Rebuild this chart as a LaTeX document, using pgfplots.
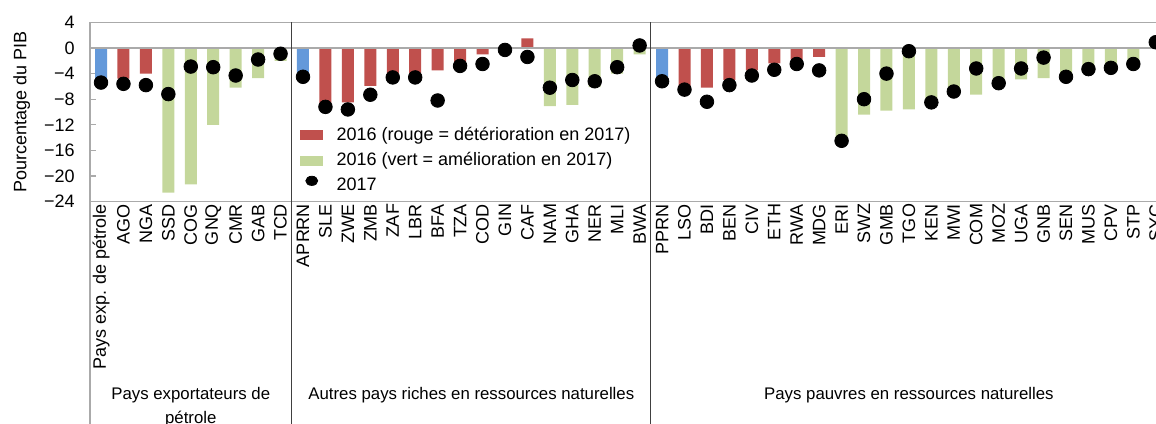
\documentclass[border=0pt]{standalone}
\usepackage{fontspec}
\setmainfont{Liberation Sans}
\usepackage{pgfplots}
\usepackage{pgfplotstable}
\pgfplotsset{compat=1.18}
\definecolor{cred}{RGB}{192,80,77}
\definecolor{cgreen}{RGB}{196,215,155}
\definecolor{cblue}{RGB}{100,153,218}
\definecolor{gridgray}{RGB}{170,170,170}

\pgfplotstableread{
x y
0 -4.8
9 -3.9
25 -4.5
}\blueT

\pgfplotstableread{
x y
1 -4.8
2 -4.0
10 -8.6
11 -8.5
12 -5.9
13 -4.0
14 -4.0
15 -3.5
16 -2.2
17 -1.0
18 0.1
19 1.5
26 -5.9
27 -6.2
28 -5.0
29 -3.5
30 -2.4
31 -1.8
32 -1.4
}\redT

\pgfplotstableread{
x y
3 -22.6
4 -21.3
5 -12.0
6 -6.2
7 -4.7
8 -2.0
20 -9.1
21 -8.9
22 -6.1
23 -4.0
24 -1.0
33 -15.0
34 -10.4
35 -9.8
36 -9.6
37 -8.9
38 -7.2
39 -7.3
40 -5.9
41 -4.9
42 -4.7
43 -4.9
44 -3.7
45 -3.5
46 -2.9
47 0.3
}\greenT

\pgfplotstableread{
x y
0 -5.4
1 -5.6
2 -5.8
3 -7.2
4 -2.9
5 -3.0
6 -4.3
7 -1.8
8 -0.9
9 -4.5
10 -9.2
11 -9.6
12 -7.3
13 -4.6
14 -4.6
15 -8.2
16 -2.8
17 -2.5
18 -0.3
19 -1.4
20 -6.2
21 -5.0
22 -5.2
23 -3.0
24 0.4
25 -5.2
26 -6.5
27 -8.4
28 -5.8
29 -4.3
30 -3.4
31 -2.5
32 -3.5
33 -14.5
34 -8.0
35 -4.0
36 -0.5
37 -8.5
38 -6.8
39 -3.2
40 -5.5
41 -3.2
42 -1.5
43 -4.5
44 -3.3
45 -3.1
46 -2.5
47 0.9
}\dotT

\begin{document}
\begin{tikzpicture}
\path[use as bounding box] (-44.9pt,-110.7pt) rectangle (533.1pt,100.8pt);
\clip (-44.9pt,-110.7pt) rectangle (533.1pt,100.8pt);
\begin{axis}[
  scale only axis,
  width=538.6pt, height=89.6pt,
  xmin=-0.5, xmax=47.5, ymin=-24, ymax=4,
  clip=false,
  axis line style={gridgray, line width=0.8pt},
  tick align=inside,
  ytick={-24,-20,-16,-12,-8,-4,0,4},
  yticklabels={−24,−20,−16,−12,−8,−4,0,4},
  ytick style={gridgray, line width=0.6pt},
  major tick length=3pt,
  xtick={0,...,47},
  xtick style={draw=none},
  xticklabels={Pays exp. de pétrole,AGO,NGA,SSD,COG,GNQ,CMR,GAB,TCD,APRRN,SLE,ZWE,ZMB,ZAF,LBR,BFA,TZA,COD,GIN,CAF,NAM,GHA,NER,MLI,BWA,PPRN,LSO,BDI,BEN,CIV,ETH,RWA,MDG,ERI,SWZ,GMB,TGO,KEN,MWI,COM,MOZ,UGA,GNB,SEN,MUS,CPV,STP,SYC},
  tick label style={font=\fontsize{9}{10}\selectfont},
  xticklabel style={rotate=90, anchor=east, inner sep=1pt},
  yticklabel style={anchor=east, xshift=-4pt},
  ylabel={Pourcentage du PIB},
  ylabel style={at={([xshift=-34pt]rel axis cs:0,0.5)}, anchor=center, font=\fontsize{9}{10}\selectfont},
  legend style={at={(0.195,0.44)}, anchor=north west, draw=none, fill=none,
    font=\fontsize{9}{10}\selectfont, row sep=0.6pt, inner sep=0pt},
  legend cell align=left,
]
\addplot[ybar, bar width=6pt, bar shift=0pt, fill=cblue, draw=none, forget plot] table {\blueT};
\addplot[ybar, bar width=6pt, bar shift=0pt, fill=cred, draw=none,
  legend image code/.code={\fill[cred] (0pt,-2.5pt) rectangle (11.5pt,2.5pt); \path (16pt,0pt);}] table {\redT};
\addlegendentry{2016 (rouge = détérioration en 2017)}
\addplot[ybar, bar width=6pt, bar shift=0pt, fill=cgreen, draw=none,
  legend image code/.code={\fill[cgreen] (0pt,-2.5pt) rectangle (11.5pt,2.5pt); \path (16pt,0pt);}] table {\greenT};
\addlegendentry{2016 (vert = amélioration en 2017)}
\draw[gridgray, line width=0.9pt] (axis cs:-0.5,0) -- (axis cs:47.5,0);
\addplot[only marks, mark=*, mark size=3.4pt, mark options={fill=black, draw=black},
  legend image code/.code={\fill[black] (5.75pt,2.5pt) ellipse (3pt and 2.3pt); \path (16pt,0pt);}] table {\dotT};
\addlegendentry{2017}
\draw[black!75, line width=0.6pt] (axis cs:8.5,4) -- ++(0pt,-230pt);
\draw[black!75, line width=0.6pt] (axis cs:24.5,4) -- ++(0pt,-230pt);
\draw[gridgray, line width=0.8pt] (axis cs:-0.5,-24) -- ++(0pt,-130pt);
\node[anchor=north, align=center, font=\fontsize{8.4}{12}\selectfont] at ([yshift=-89.2pt]axis cs:4,-24) {Pays exportateurs de\\pétrole};
\node[anchor=north, align=center, font=\fontsize{8.4}{12}\selectfont] at ([yshift=-89.2pt]axis cs:16.5,-24) {Autres pays riches en ressources naturelles};
\node[anchor=north, align=center, font=\fontsize{8.4}{12}\selectfont] at ([yshift=-89.2pt]axis cs:36,-24) {Pays pauvres en ressources naturelles};
\end{axis}
\end{tikzpicture}
\end{document}
